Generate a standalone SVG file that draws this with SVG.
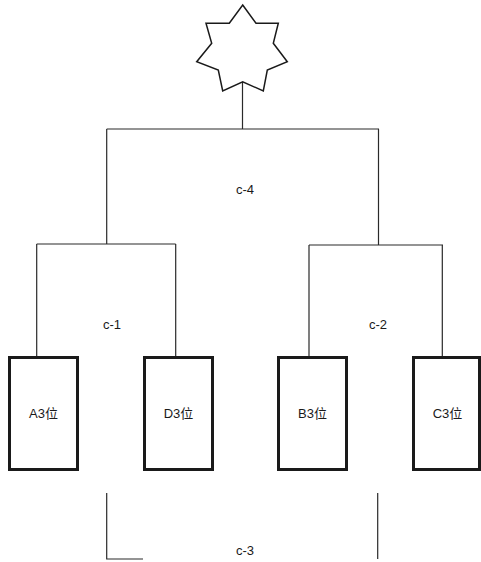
<svg xmlns="http://www.w3.org/2000/svg" width="481" height="562" viewBox="0 0 481 562">
<style>
.ln{fill:none;stroke:#2a2a2a;stroke-width:1.2}
.box{fill:#fff;stroke:#1a1a1a;stroke-width:3}
.t{font-family:"Liberation Sans","Noto Sans CJK SC",sans-serif;font-size:13px;fill:#1a1a1a;text-anchor:middle;dominant-baseline:central}
</style>
<rect width="481" height="562" fill="#fff"/>
<g id="connectors">
<path class="ln" d="M242.5,82 V129 M106.7,129 H379 M106.7,129 V244 M378.5,129 V245 M36.7,244 H175.7 M36.7,244 V356 M175.7,244 V356 M309,245 H443 M309,245 V356 M442.3,245 V356"/>
<path class="ln" d="M106.7,493 V559 H143 M377.7,493 V559"/>
</g>
<g id="star">
<polygon points="242.7,5 256,23.3 278.3,23.3 273.3,43.3 287.3,61.7 267.3,70 263.3,91 242.7,81.7 222.7,91 218.3,70 196.7,61.7 211.7,43.3 206,23.3 229.3,23.3" fill="#fff" stroke="#1a1a1a" stroke-width="1.5" stroke-linejoin="miter"/>
</g>
<g id="A3"><rect class="box" x="9.5" y="357.5" width="68" height="112"/><text class="t" x="43.5" y="413">A3位</text></g>
<g id="D3"><rect class="box" x="144.5" y="357.5" width="68" height="112"/><text class="t" x="178.5" y="413">D3位</text></g>
<g id="B3"><rect class="box" x="278.5" y="357.5" width="68" height="112"/><text class="t" x="312.5" y="413">B3位</text></g>
<g id="C3"><rect class="box" x="413.5" y="357.5" width="66" height="112"/><text class="t" x="447.5" y="413">C3位</text></g>
<g id="labels">
<text class="t" x="245" y="189">c-4</text>
<text class="t" x="112" y="324">c-1</text>
<text class="t" x="378" y="324">c-2</text>
<text class="t" x="245" y="550">c-3</text>
</g>
</svg>
